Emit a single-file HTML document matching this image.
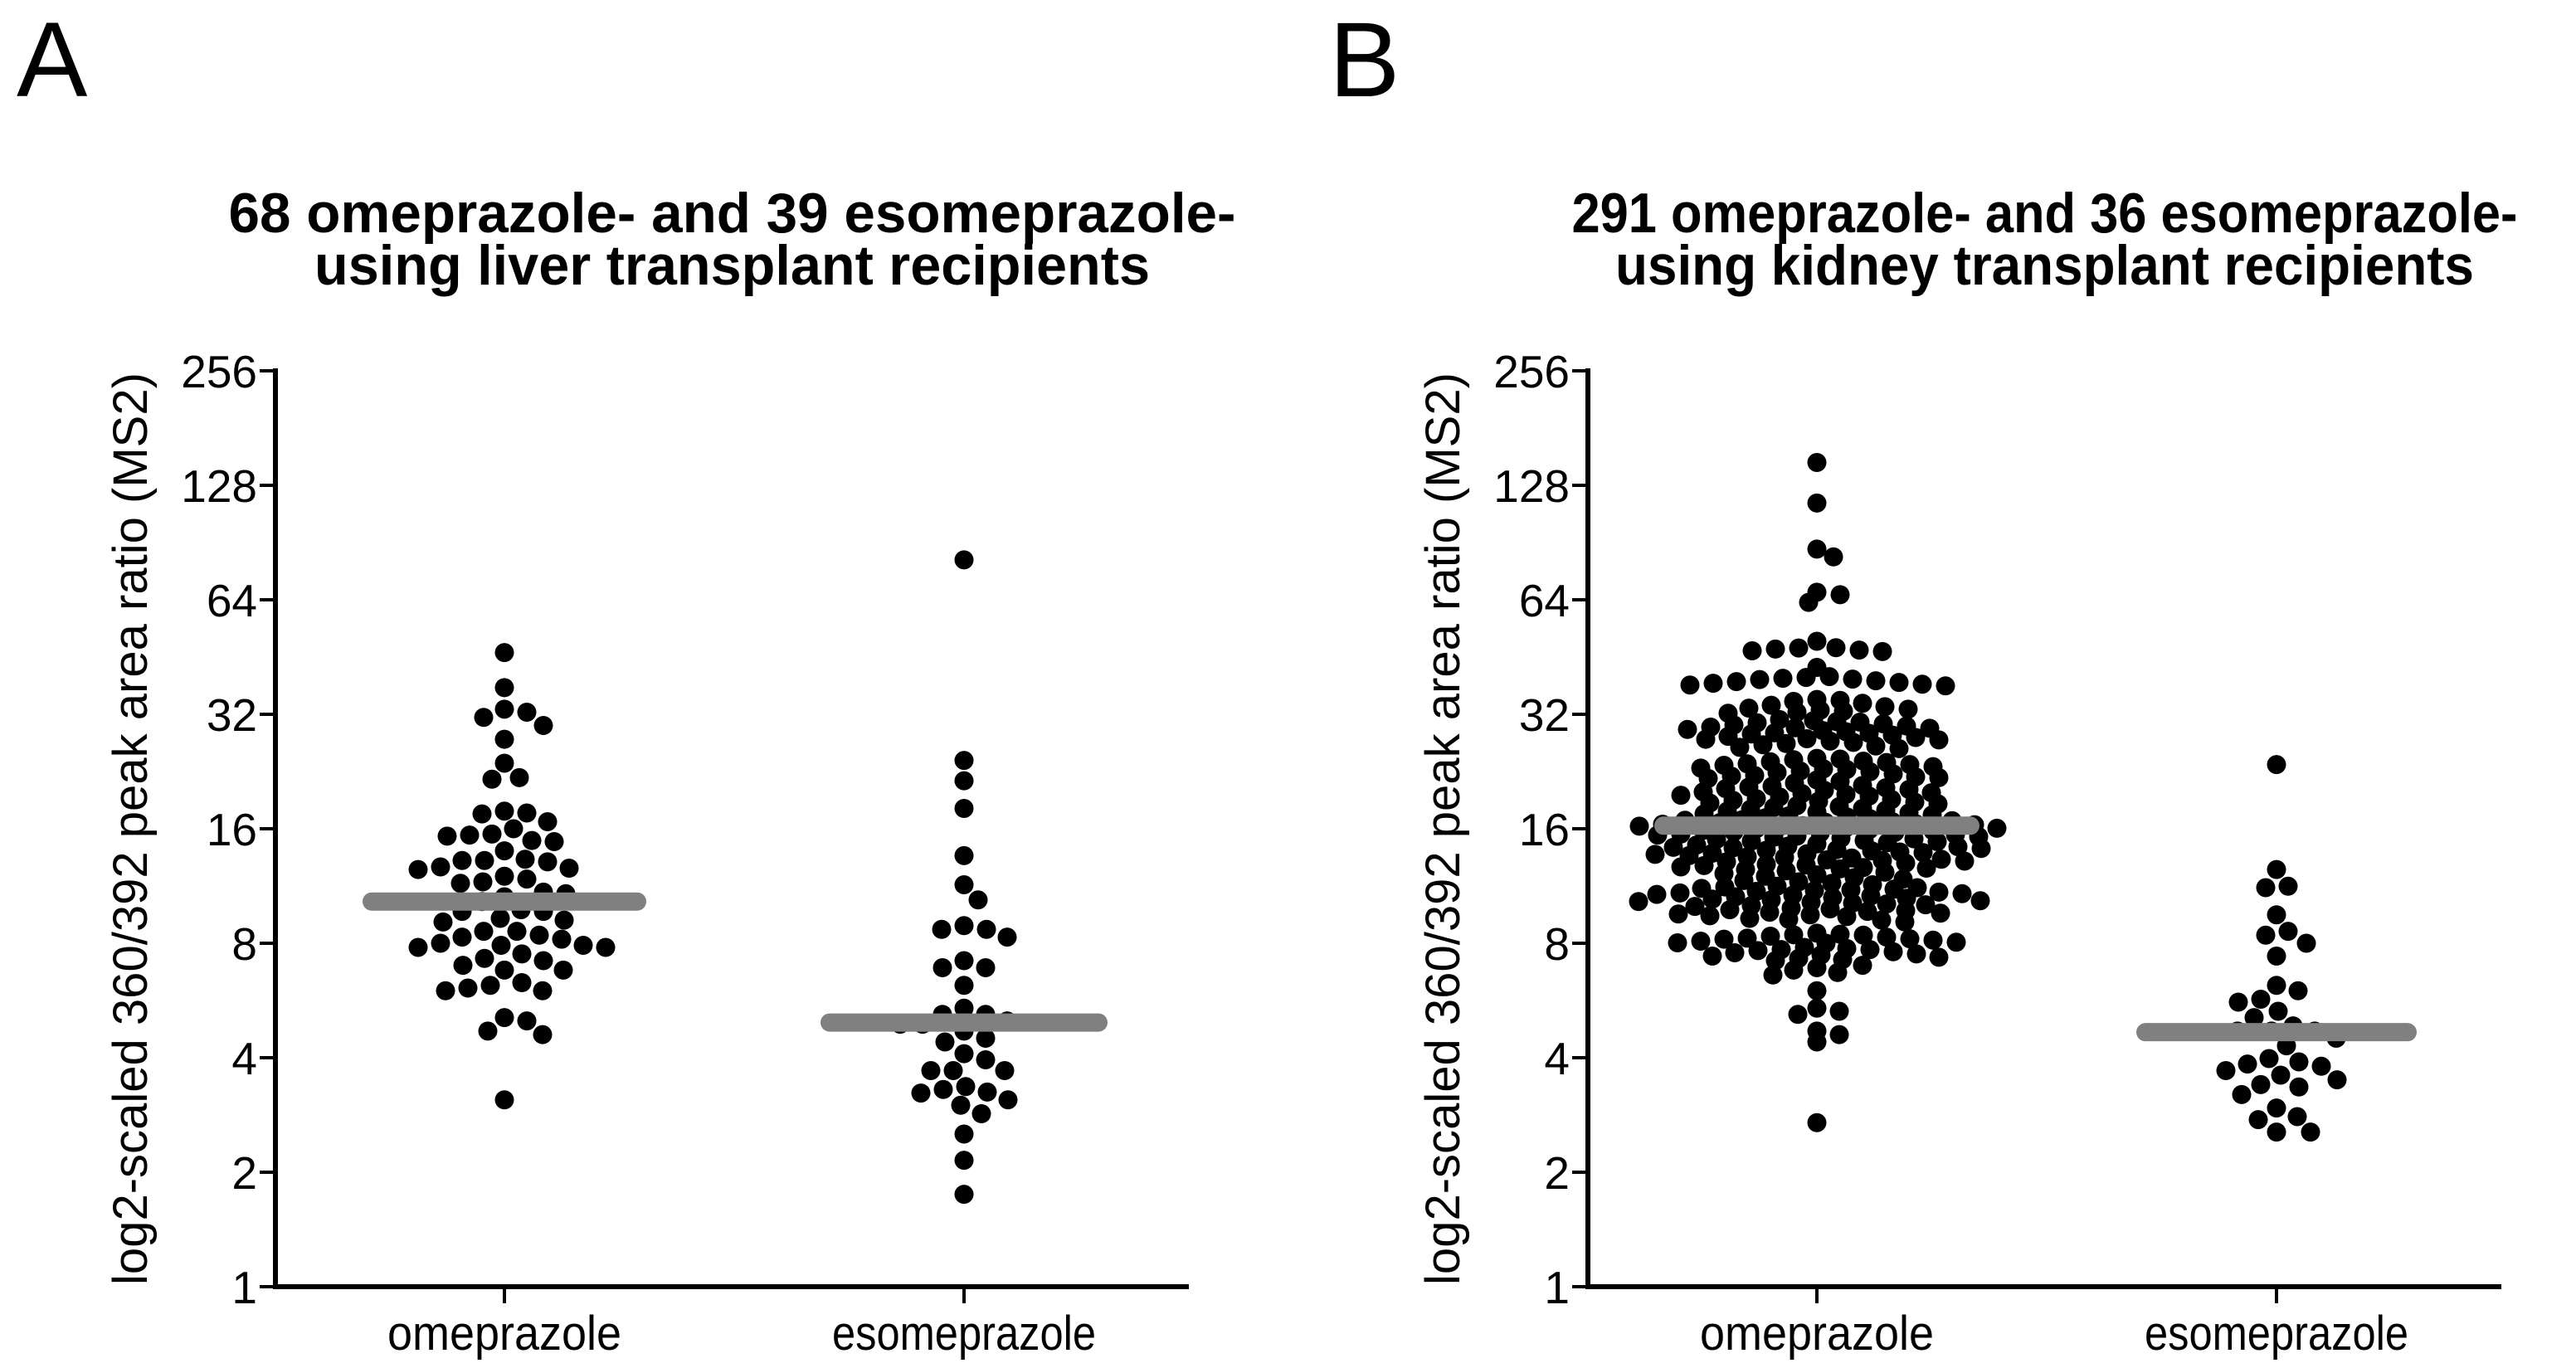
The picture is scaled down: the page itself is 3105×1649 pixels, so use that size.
<!DOCTYPE html>
<html><head><meta charset="utf-8"><style>
html,body{margin:0;padding:0;background:#fff;}
svg{display:block;font-family:"Liberation Sans",Arial,sans-serif;}
</style></head><body>
<svg id="fig" width="3105" height="1649" viewBox="0 0 3105 1649" xmlns="http://www.w3.org/2000/svg">
<rect width="3105" height="1649" fill="#fff"/>
<g id="panelA"></g>
<g id="panelB"></g>
</svg>
<script>
const NS="http://www.w3.org/2000/svg";
// ---- data ----
const categories=["omeprazole","esomeprazole"];
const tickValues=[1,2,4,8,16,32,64,128,256];
const tickLabels=["1","2","4","8","16","32","64","128","256"];
const titlesA=["68 omeprazole- and 39 esomeprazole-","using liver transplant recipients"];
const titlesB=["291 omeprazole- and 36 esomeprazole-","using kidney transplant recipients"];
const liverOme=[46.5,37.6,33,32.4,31.4,29.9,27.5,23.8,21.6,21.8,17.6,17.8,17.5,16.7,16,15.4,15.3,15.5,14.8,14.9,14,13.2,13.2,13.3,13.1,12.7,12.6,12.5,12.0,11.8,11.6,11.5,10.8,10.9,10.6,10.3,9.7,9.7,9.8,9.3,9.2,9.1,8.6,8.6,8.4,8.2,8.3,8.0,7.9,7.9,7.8,7.8,7.5,7.3,7.2,7.0,6.8,6.8,6.3,6.2,6.1,6.0,6.0,5.0,5.1,4.7,4.6,3.1];
const liverEso=[81.5,24.2,21.4,18.1,13.6,11.4,10.4,8.9,8.7,8.7,8.3,7.2,6.9,6.9,6.2,5.4,5.2,5.2,5.0,4.9,4.9,4.7,4.5,4.4,4.1,3.95,3.7,3.7,3.7,3.36,3.3,3.25,3.23,3.1,3.0,2.85,2.52,2.15,1.75];
const kidneyOme=[147,115,87,83,67,66,63,
49.8,47.8,47.5,47.2,47,46.8,47.9,42.5,
40,39.8,39.5,39.2,39,38.8,38.6,38.4,38.2,38,40.2,39.6,
35,34.6,34.2,33.8,33.5,33.2,33,32.8,32.6,32.4,32.2,34.8,
31,30.8,30.6,30.4,30.2,30,29.8,29.6,29.4,29.2,29,28.8,28.6,28.4,28.2,28,27.8,27.6,27.4,27.2,27,26.8,26.6,26.4,26.2,26,30.5,29.5,28.5,27.5,
24.5,24.3,24.1,23.9,23.7,23.5,23.3,23.1,22.9,22.7,22.5,22.3,22.1,21.9,21.7,21.5,21.3,21.1,24,23,22,21.8,22.6,23.6,24.4,
20.8,20.6,20.4,20.2,20,19.8,19.6,19.4,19.2,19,18.8,18.6,18.4,18.2,18,17.8,17.6,17.4,17.2,17,20.7,20.3,19.9,19.5,19.1,18.7,18.3,17.9,17.5,17.1,20.5,19.7,18.9,18.1,17.3,17.7,
16.9,16.8,16.7,16.6,16.5,16.4,16.3,16.2,16.1,16,15.9,15.8,15.7,15.6,15.5,15.4,15.3,15.2,15.1,15,14.9,14.8,14.7,14.6,14.5,16.85,16.45,16.05,15.65,15.25,14.85,16.65,16.25,15.85,15.45,15.05,
14.4,14.3,14.2,14.1,14,13.9,13.8,13.7,13.6,13.5,13.4,13.3,13.2,13.1,13,12.9,12.8,12.7,12.6,12.5,12.4,12.3,14.35,14.05,13.75,13.45,13.15,12.85,12.55,14.25,13.85,13.25,12.65,
12.2,12.1,12,11.9,11.8,11.7,11.6,11.5,11.4,11.3,11.2,11.1,11,10.9,10.8,10.7,10.6,10.5,10.4,10.3,10.2,10.1,10,11.25,11.05,10.85,10.65,10.45,10.25,10.05,11.15,10.95,10.75,10.55,10.35,10.15,
9.9,9.8,9.7,9.6,9.5,9.4,9.3,9.2,9.1,9.85,9.65,9.45,9.25,9.75,9.55,
8.5,8.45,8.4,8.35,8.3,8.25,8.2,8.15,8.1,8.05,8,8.42,8.22,8.02,
7.8,7.75,7.7,7.65,7.6,7.55,7.5,7.45,7.4,7.35,7.3,7.25,7.2,7.7,
7,6.9,6.8,6.7,6.6,6.0,5.4,5.3,5.2,4.7,4.6,4.4,2.7];
const kidneyEso=[23.6,12.5,11.3,11.2,9.5,8.6,8.4,8.0,7.4,6.2,6.0,5.7,5.6,5.3,5.1,4.85,4.7,4.7,4.7,4.5,4.3,3.98,3.9,3.85,3.8,3.7,3.6,3.5,3.4,3.35,3.2,2.95,2.8,2.75,2.55,2.55];
const meansA=[10.3,4.95];
const meansB=[16.3,4.67];

// ---- layout ----
const Y0=1551, STEP=138, R=11.5;
function yScale(v){return Y0-Math.log2(v)*STEP;}
function el(tag,attrs,parent,text){const e=document.createElementNS(NS,tag);for(const k in attrs)e.setAttribute(k,attrs[k]);if(text!==undefined)e.textContent=text;parent.appendChild(e);return e;}

function swarm(vals,cx,Dx,Dy){
  const pts=vals.map(v=>({v:v,y:yScale(v)})).sort((a,b)=>a.y-b.y);
  const placed=[];
  pts.forEach(p=>{
    let best=cx;
    for(let k=0;k<1000;k++){
      const off=(k%2?1:-1)*Math.ceil(k/2);
      const x=cx+off;
      let ok=true;
      for(const q of placed){const dx=(q.x-x)/Dx,dy=(q.y-p.y)/Dy;if(Math.abs(dy)<1&&dx*dx+dy*dy<1){ok=false;break;}}
      if(ok){best=x;break;}
    }
    p.x=best;placed.push(p);
  });
  return placed;
}

function panel(g,ox,letter,titles,groups,means,barHalf,titleLens,spacing){
  const ax=ox, axEnd=ox+1101, catX=[ox+276,ox+830];
  const L=el('text',{x:ox-312,y:116,'font-size':128,fill:'#000'},g,letter);
  
  const cx=(ax+axEnd)/2;
  titles.forEach((t,i)=>{
    const tt=el('text',{x:cx,y:280+i*63,'font-size':68,'font-weight':'bold','text-anchor':'middle',textLength:titleLens[i],lengthAdjust:'spacingAndGlyphs'},g,t);
    
  });
  const yt=el('text',{x:0,y:0,'font-size':58,'text-anchor':'middle',transform:`translate(${ax-155},999) rotate(-90)`,textLength:1100,lengthAdjust:'spacingAndGlyphs'},g,'log2-scaled 360/392 peak area ratio (MS2)');
  
  const axis=el('path',{d:`M${ax} ${yScale(256)-3}V${Y0}H${axEnd}`,stroke:'#000','stroke-width':6,fill:'none'},g);
  
  tickValues.forEach((v,i)=>{
    const y=yScale(v);
    const tk=el('line',{x1:ax-19,x2:ax,y1:y,y2:y,stroke:'#000','stroke-width':4},g);
    
    const tl=el('text',{x:ax-22,y:y+20,'font-size':55,'text-anchor':'end'},g,tickLabels[i]);
    
  });
  const catLens=[282,318];
  categories.forEach((c,i)=>{
    const tk=el('line',{x1:catX[i],x2:catX[i],y1:Y0,y2:Y0+20,stroke:'#000','stroke-width':4},g);
    
    const tl=el('text',{x:catX[i],y:1627,'font-size':58,'text-anchor':'middle',textLength:catLens[i],lengthAdjust:'spacingAndGlyphs'},g,c);
    
  });
  groups.forEach((vals,gi)=>{
    swarm(vals,catX[gi],spacing[gi][0],spacing[gi][1]).forEach(p=>{
      const d=el('circle',{cx:p.x,cy:p.y,r:R,fill:'#000'},g);
      
    });
  });
  means.forEach((m,gi)=>{
    const y=yScale(m);
    const b=el('line',{x1:catX[gi]-barHalf[gi],x2:catX[gi]+barHalf[gi],y1:y,y2:y,stroke:'#808080','stroke-width':22,'stroke-linecap':'round'},g);
    
  });
}
panel(document.getElementById('panelA'),332,'A',titlesA,[liverOme,liverEso],meansA,[160,162],[1214,1007],[[27,23],[27,23]]);
panel(document.getElementById('panelB'),1914,'B',titlesB,[kidneyOme,kidneyEso],meansB,[185,158],[1140,1035],[[28,13],[27,23]]);
</script>
</body></html>
